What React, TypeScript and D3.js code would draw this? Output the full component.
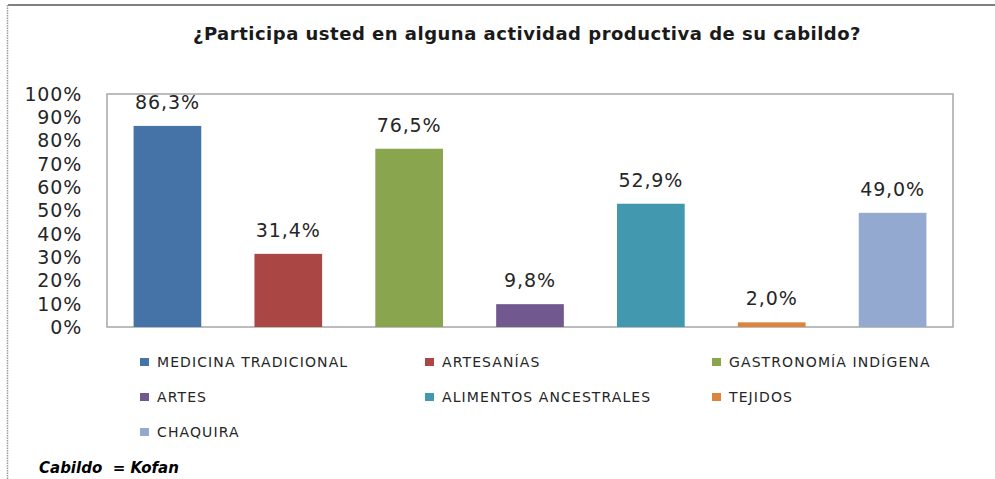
import React from "react";
import * as d3 from "d3";

const TITLE = "¿Participa usted en alguna actividad productiva de su cabildo?";
const categories = [
  "MEDICINA TRADICIONAL",
  "ARTESANÍAS",
  "GASTRONOMÍA INDÍGENA",
  "ARTES",
  "ALIMENTOS ANCESTRALES",
  "TEJIDOS",
  "CHAQUIRA",
];
const values = [86.3, 31.4, 76.5, 9.8, 52.9, 2.0, 49.0];
const colors = ["#4572A7", "#AA4643", "#89A54E", "#71588F", "#4198AF", "#DB843D", "#93A9CF"];
const yTicks = [0, 10, 20, 30, 40, 50, 60, 70, 80, 90, 100];
const NOTE = "Cabildo  = Kofan";

const W = 995;
const H = 479;
const plot = { left: 107, right: 953, top: 94, bottom: 327 };
const FONT = "'DejaVu Sans', sans-serif";

export default function App() {
  const x = d3
    .scaleBand<string>()
    .domain(categories)
    .range([plot.left, plot.right])
    .paddingInner(0.44)
    .paddingOuter(0.22);
  const y = d3.scaleLinear().domain([0, 100]).range([plot.bottom, plot.top]);
  const fmt = (v: number) => v.toFixed(1).replace(".", ",") + "%";

  const legendCols = [140, 425, 712];
  const legendRows = [362, 397, 432];

  return (
    <svg
      width={W}
      height={H}
      style={{ position: "absolute", left: 0, top: 0, background: "#fff" }}
      fontFamily={FONT}
    >
      <rect x={0} y={0} width={W} height={H} fill="#fff" />
      {/* outer frame */}
      <line x1={8} x2={W} y1={5} y2={5} stroke="#808080" strokeWidth={2} />
      <line x1={7.5} x2={7.5} y1={5} y2={H} stroke="#9a9a9a" strokeWidth={1.5} strokeDasharray="1.5 1" />

      <text x={527} y={40} textAnchor="middle" fontSize={18} fontWeight="bold" letterSpacing={0.5} fill="#1a1a1a">
        {TITLE}
      </text>

      {/* plot frame */}
      <rect
        x={plot.left}
        y={plot.top}
        width={plot.right - plot.left}
        height={plot.bottom - plot.top}
        fill="none"
        stroke="#a6a6a6"
        strokeWidth={1.5}
      />

      {yTicks.map((t) => (
        <text key={t} x={82} y={y(t)} dy="0.36em" textAnchor="end" fontSize={19} letterSpacing={0.8} fill="#262626">
          {t}%
        </text>
      ))}

      {categories.map((c, i) => (
        <g key={c}>
          <rect
            x={x(c)}
            y={y(values[i])}
            width={x.bandwidth()}
            height={plot.bottom - y(values[i])}
            fill={colors[i]}
          />
          <text
            x={(x(c) as number) + x.bandwidth() / 2}
            y={y(values[i]) - 17}
            textAnchor="middle"
            fontSize={19}
            letterSpacing={0.9}
            fill="#262626"
          >
            {fmt(values[i])}
          </text>
        </g>
      ))}

      {categories.map((c, i) => {
        const col = i % 3;
        const row = Math.floor(i / 3);
        const lx = legendCols[col];
        const ly = legendRows[row];
        return (
          <g key={"lg" + c}>
            <rect x={lx} y={ly - 4} width={9} height={8} fill={colors[i]} />
            <text x={lx + 17} y={ly} dy="0.36em" fontSize={14} letterSpacing={1.1} fill="#262626">
              {c}
            </text>
          </g>
        );
      })}

      <text
        x={39}
        y={468}
        dy="0.36em"
        fontSize={15}
        fontWeight="bold"
        fontStyle="italic"
        fill="#000"
        style={{ whiteSpace: "pre" }}
      >
        {NOTE}
      </text>
    </svg>
  );
}
